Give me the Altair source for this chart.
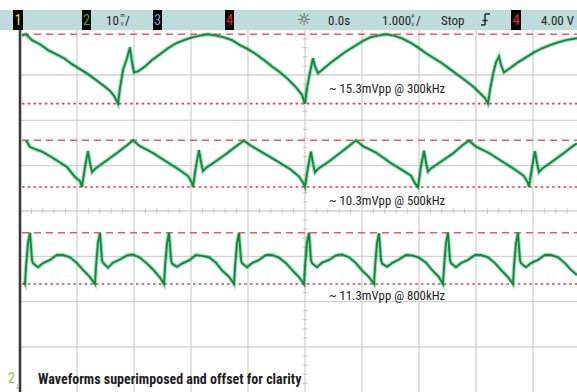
import altair as alt
import pandas as pd

W, H = 577, 392

# Horizontal: acquisition sample index, 57 samples per division, 0 at the left graticule edge.
# Vertical: on-screen millivolts, 10 mV/div, 0 mV on the centre graticule line.
X_DOMAIN = [-20, 557]
Y_DOMAIN = [-39.93, 46.55]

# ---- captured traces (mV above each trace's own minimum) ----
t1_samples = [2, 6, 12, 20, 28, 36, 44, 52, 60, 68, 76, 84, 90, 94, 98, 100, 103, 107, 110, 112,
              114, 118, 125, 132, 140, 148, 156, 164, 172, 180, 188, 196, 204, 212, 220, 228, 236, 244, 252, 260,
              268, 276, 282, 285, 287, 290, 293, 295, 298, 302, 310, 318, 326, 334, 342, 350, 358, 366, 374, 382,
              390, 398, 406, 414, 422, 430, 438, 446, 454, 460, 465, 468, 470, 473, 476, 479, 481, 484, 490, 498,
              506, 514, 522, 530, 538, 546, 557]
t1_mv = [15.0, 15.3, 14.0, 13.1, 11.8, 10.9, 10.0, 8.7, 7.6, 6.5, 5.2, 3.9, 2.8, 1.7, 0.0, 3.4, 7.4, 10.0, 12.4, 9.1,
         6.9, 7.1, 8.2, 9.6, 10.9, 12.2, 13.3, 14.0, 14.6, 15.0, 15.3, 15.0, 14.6, 14.0, 12.9, 12.0, 10.9, 9.6, 8.2, 6.9,
         5.4, 3.6, 1.9, 0.0, 3.4, 6.9, 10.0, 8.2, 6.7, 7.4, 8.9, 10.2, 11.5, 12.6, 13.7, 14.6, 15.0, 15.3, 15.0, 14.4,
         13.5, 12.4, 11.1, 10.0, 8.9, 7.6, 6.3, 5.0, 3.6, 2.3, 1.2, 0.0, 3.0, 6.5, 9.1, 10.4, 8.5, 6.9, 7.8, 9.1,
         10.2, 11.3, 12.2, 12.9, 13.5, 14.0, 14.4]

t2_samples = [6, 10, 23, 33, 47, 55, 60, 62, 65, 68, 70, 72, 75, 87, 97, 107, 113, 120, 133, 147,
              160, 168, 172, 173, 176, 179, 181, 183, 186, 198, 208, 218, 224, 231, 244, 258, 271, 279, 283, 285,
              288, 291, 293, 295, 298, 310, 320, 330, 336, 343, 356, 370, 383, 391, 395, 398, 401, 404, 406, 408,
              411, 423, 433, 443, 449, 456, 469, 483, 496, 504, 508, 509, 512, 515, 517, 519, 522, 534, 544, 554,
              557]
t2_mv = [10.3, 8.8, 7.7, 6.4, 4.4, 2.2, 1.3, 0.0, 4.4, 7.9, 5.3, 3.3, 4.0, 5.9, 7.5, 9.2, 10.3, 9.0, 7.5, 5.5,
         3.7, 2.4, 0.9, 0.0, 4.6, 8.1, 5.5, 3.5, 4.2, 6.0, 7.6, 9.3, 10.2, 9.1, 7.4, 5.6, 3.8, 2.3, 1.0, 0.0,
         4.3, 7.8, 5.2, 3.2, 4.0, 5.8, 7.5, 9.2, 10.3, 9.0, 7.6, 5.4, 3.6, 2.5, 0.8, 0.0, 4.5, 8.0, 5.4, 3.4,
         4.1, 5.9, 7.4, 9.3, 10.2, 8.9, 7.5, 5.5, 3.7, 2.4, 0.9, 0.0, 4.4, 7.9, 5.3, 3.3, 4.0, 5.9, 7.5, 9.2,
         9.6]

t3_samples = [4, 5,
              6, 8, 10, 12, 13, 18, 23, 30, 37, 43, 50, 57, 63, 70, 75,
              76, 78, 80, 82, 83, 88, 93, 100, 107, 113, 120, 127, 133, 140, 144,
              145, 147, 149, 151, 152, 157, 162, 169, 176, 182, 189, 196, 202, 209, 214,
              215, 217, 219, 221, 222, 227, 232, 239, 246, 252, 259, 266, 272, 279, 284,
              285, 287, 289, 291, 292, 297, 302, 309, 316, 322, 329, 336, 342, 349, 354,
              355, 357, 359, 361, 362, 367, 372, 379, 386, 392, 399, 406, 412, 419, 423,
              424, 426, 428, 430, 431, 436, 441, 448, 455, 461, 468, 475, 481, 488, 493,
              494, 496, 498, 500, 501, 506, 511, 518, 525, 531, 538, 545, 551, 557]
t3_mv = [0.4, 0.0,
         3.7, 9.0, 11.3, 5.3, 4.6, 3.7, 4.6, 5.3, 6.4, 6.4, 5.9, 4.6, 3.1, 1.5, 0.0,
         3.8, 9.1, 11.2, 5.2, 4.7, 3.6, 4.7, 5.4, 6.3, 6.5, 5.8, 4.5, 3.2, 1.4, 0.0,
         3.7, 8.9, 11.3, 5.4, 4.5, 3.8, 4.5, 5.2, 6.4, 6.2, 5.9, 4.7, 3.0, 1.6, 0.0,
         3.6, 9.0, 11.2, 5.3, 4.6, 3.7, 4.6, 5.3, 6.4, 6.4, 5.8, 4.6, 3.1, 1.5, 0.0,
         3.8, 9.1, 11.3, 5.2, 4.6, 3.7, 4.7, 5.3, 6.3, 6.5, 5.9, 4.6, 3.0, 1.5, 0.0,
         3.7, 9.0, 11.2, 5.3, 4.5, 3.8, 4.6, 5.4, 6.4, 6.3, 5.8, 4.7, 3.1, 1.5, 0.0,
         3.7, 9.0, 11.3, 5.3, 4.6, 3.7, 4.6, 5.3, 6.4, 6.4, 5.9, 4.6, 3.1, 1.5, 0.0,
         3.8, 9.0, 11.3, 5.2, 4.6, 3.7, 4.6, 5.3, 6.4, 6.4, 5.9, 4.6, 3.1, 2.0]

# per-trace settings
freq_khz = [300, 500, 800]
vpp_mv = [15.3, 10.3, 11.3]
offset_mv = [23.7, 5.3, -16.1]          # display offset of each trace's minimum
label_mv = [26.9, 2.2, -18.75]          # vertical position of each annotation
label_sample = [309, 309, 309]

# graticule
grid_x = [57, 114, 171, 228, 285, 342, 399, 456, 513]
grid_y = [-30, -20, -10, 0, 10, 20, 30, 40]
minor_x = [round(11.4 * k, 1) for k in range(1, 49) if k % 5]
minor_y = [2 * k for k in range(-19, 20) if k % 5]

FONT = "Liberation Sans Narrow, Roboto Condensed, Liberation Sans, Arial, sans-serif"
GREEN = "#0b8d3e"

frames = []
for i, (s, v) in enumerate([(t1_samples, t1_mv), (t2_samples, t2_mv), (t3_samples, t3_mv)]):
    df = pd.DataFrame({"sample": s, "level": v})
    df["mv"] = df["level"] + offset_mv[i]
    df["trace"] = f"{freq_khz[i]} kHz"
    frames.append(df)
traces = pd.concat(frames, ignore_index=True)

refs = pd.DataFrame({
    "top": [o + p for o, p in zip(offset_mv, vpp_mv)],
    "bottom": offset_mv,
})
labels = pd.DataFrame({
    "sample": label_sample,
    "mv": label_mv,
    "text": [f"~ {p}mVpp @ {f}kHz" for p, f in zip(vpp_mv, freq_khz)],
})

xs = alt.Scale(domain=X_DOMAIN, nice=False, zero=False)
ys = alt.Scale(domain=Y_DOMAIN, nice=False, zero=False)
X = lambda f: alt.X(f, type="quantitative", scale=xs, axis=None)
Y = lambda f: alt.Y(f, type="quantitative", scale=ys, axis=None)

GRID = "#d2d2d2"
vgrid = alt.Chart(pd.DataFrame({"sample": grid_x})).mark_rule(color=GRID, strokeWidth=1.3).encode(
    x=X("sample"), y=alt.value(30), y2=alt.value(H))
hgrid = alt.Chart(pd.DataFrame({"mv": grid_y})).mark_rule(color=GRID, strokeWidth=1.3).encode(
    y=Y("mv"), x=alt.value(20), x2=alt.value(W))
xticks = alt.Chart(pd.DataFrame({"sample": minor_x})).mark_rule(color="#c4c4c4", strokeWidth=1).encode(
    x=X("sample"), y=alt.value(208.5), y2=alt.value(213.5))
yticks = alt.Chart(pd.DataFrame({"mv": minor_y})).mark_rule(color="#c4c4c4", strokeWidth=1).encode(
    y=Y("mv"), x=alt.value(302.5), x2=alt.value(307.5))

dashed = alt.Chart(refs).mark_rule(color="#ee5a60", strokeWidth=1.6, strokeDash=[7, 5]).encode(
    y=Y("top"), x=alt.value(22), x2=alt.value(W))
dotted = alt.Chart(refs).mark_rule(color="#ee3a42", strokeWidth=1.6, strokeDash=[2.5, 3.2]).encode(
    y=Y("bottom"), x=alt.value(22), x2=alt.value(W))

halo = alt.Chart(traces).mark_line(color=GREEN, strokeWidth=4.0, opacity=0.35).encode(
    x=X("sample"), y=Y("mv"), detail="trace:N", order="sample:Q")
core = alt.Chart(traces).mark_line(color=GREEN, strokeWidth=1.9).encode(
    x=X("sample"), y=Y("mv"), detail="trace:N", order="sample:Q")

left_edge = alt.Chart(pd.DataFrame({"sample": [0]})).mark_rule(color="#3a3a3a", strokeWidth=2.6).encode(
    x=X("sample"), y=alt.value(30), y2=alt.value(H))

annot = alt.Chart(labels).mark_text(align="left", baseline="middle", font=FONT, fontSize=12.8,
                                    color="#1e1e1e").encode(x=X("sample"), y=Y("mv"), text="text:N")

ONE = alt.Data(values=[{}])


def box(x0, x1, y0, y1, color):
    return alt.Chart(ONE).mark_rect(color=color).encode(
        x=alt.value(x0), x2=alt.value(x1), y=alt.value(y0), y2=alt.value(y1))


def txt(s, x, y, size=13, color="#1e1e1e", align="left", weight="normal", font=FONT):
    return alt.Chart(ONE).mark_text(text=s, align=align, baseline="middle", fontSize=size,
                                    color=color, fontWeight=weight, font=font).encode(
        x=alt.value(x), y=alt.value(y))


def seg(x0, y0, x1, y1, color="#1e1e1e", w=1.4):
    return alt.Chart(ONE).mark_rule(color=color, strokeWidth=w).encode(
        x=alt.value(x0), y=alt.value(y0), x2=alt.value(x1), y2=alt.value(y1))


header = [
    box(0, W, 10, 30, "#bfdcdc"),
    box(13, 23, 10, 30, "#000000"), txt("1", 18, 20.5, size=14.5, color="#f2ea00", align="center"),
    box(82, 91, 10, 30, "#000000"), txt("2", 86.5, 20.5, size=14.5, color="#2cb34a", align="center"),
    txt("10", 106, 20.5), txt("m", 120.5, 14.5, size=5.5), txt("V", 120.5, 23.5, size=5.5), txt("/", 125, 20.5),
    box(153, 162, 10, 30, "#000000"), txt("3", 157.5, 20.5, size=14.5, color="#9a8fd0", align="center"),
    box(225, 234, 10, 30, "#000000"), txt("4", 229.5, 20.5, size=14.5, color="#e8202a", align="center"),
    txt("☼", 304, 20, size=16, color="#444444", align="center", font="DejaVu Sans"),
    txt("0.0s", 328, 20.5),
    txt("1.000", 382, 20.5), txt("µ", 411.5, 14.5, size=5.5), txt("s", 411.5, 23.5, size=5.5),
    txt("/", 416, 20.5),
    txt("Stop", 441, 20.5),
    seg(481, 25, 485, 25), seg(485, 25, 485, 14), seg(485, 14, 490, 14), seg(482.5, 20.5, 487.5, 20.5),
    box(511, 521, 10, 30, "#000000"), txt("4", 516, 20.5, size=14.5, color="#e8202a", align="center"),
    txt("4.00 V", 574, 20.5, align="right"),
]

footer = [
    txt("2", 8, 379, size=14, color="#8cc63f"),
    txt("↓", 14.5, 387, size=7, color="#8cc63f", font="DejaVu Sans"),
    txt("Waveforms superimposed and offset for clarity", 38, 380, size=14, weight="bold"),
]

chart = alt.layer(
    vgrid, hgrid, xticks, yticks, dashed, dotted, halo, core, left_edge, annot, *header, *footer
).properties(
    width=W, height=H, autosize=alt.AutoSizeParams(type="none"), padding=0, background="white"
).configure_view(stroke=None)

chart.save("out.html", embed_options={"renderer": "svg", "actions": False})
